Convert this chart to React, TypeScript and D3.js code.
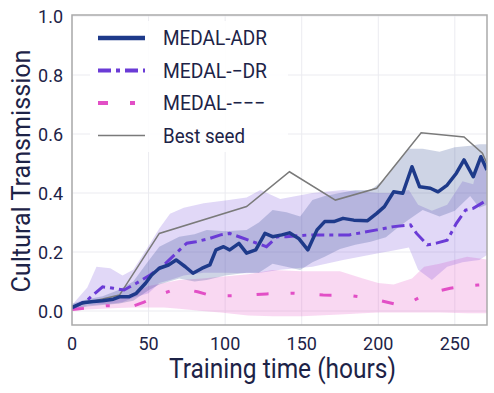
import React from 'react';
import * as d3 from 'd3';

// MEDAL-ADR (solid navy)
const adrHours = [0, 7, 14, 20, 27, 31, 37, 42, 48, 52, 57, 63, 68, 74, 79, 85, 90, 94, 99, 103, 109, 114, 120, 126, 131, 137, 142, 148, 154, 160, 165, 171, 177, 184, 193, 199, 204, 210, 216, 222, 227, 234, 239, 245, 251, 256, 262, 267, 271];
const adrMean = [0.012, 0.028, 0.032, 0.035, 0.04, 0.048, 0.048, 0.06, 0.094, 0.122, 0.145, 0.156, 0.173, 0.15, 0.128, 0.145, 0.156, 0.207, 0.218, 0.207, 0.229, 0.196, 0.207, 0.263, 0.252, 0.258, 0.265, 0.246, 0.207, 0.275, 0.303, 0.303, 0.314, 0.308, 0.306, 0.331, 0.354, 0.404, 0.399, 0.489, 0.421, 0.416, 0.404, 0.427, 0.467, 0.512, 0.455, 0.523, 0.478];
const adrBandHours = [0, 10, 20, 30, 40, 50, 57, 70, 80, 88, 100, 114, 122, 131, 140, 149, 157, 165, 175, 185, 195, 205, 212, 220, 229, 240, 250, 260, 266, 271];
const adrUpper = [0.025, 0.04, 0.05, 0.07, 0.1, 0.17, 0.218, 0.252, 0.26, 0.275, 0.27, 0.275, 0.3, 0.342, 0.335, 0.32, 0.376, 0.39, 0.4, 0.41, 0.41, 0.45, 0.5, 0.55, 0.55, 0.54, 0.555, 0.56, 0.565, 0.565];
const adrLower = [0.005, 0.015, 0.02, 0.025, 0.035, 0.07, 0.09, 0.11, 0.1, 0.105, 0.12, 0.13, 0.13, 0.16, 0.15, 0.139, 0.165, 0.184, 0.21, 0.225, 0.235, 0.25, 0.28, 0.31, 0.342, 0.32, 0.34, 0.39, 0.35, 0.36];

// MEDAL--DR (purple dash-dot)
const drHours = [0, 10, 15, 20, 27, 34, 42, 51, 60, 68, 75, 81, 90, 97, 103, 110, 118, 127, 134, 140, 155, 171, 181, 199, 210, 221, 225, 232, 238, 245, 251, 257, 262, 271];
const drMean = [0.01, 0.037, 0.06, 0.082, 0.077, 0.071, 0.094, 0.122, 0.156, 0.196, 0.23, 0.235, 0.246, 0.258, 0.263, 0.25, 0.235, 0.218, 0.252, 0.252, 0.258, 0.258, 0.258, 0.275, 0.286, 0.292, 0.263, 0.224, 0.23, 0.24, 0.297, 0.342, 0.348, 0.376];
const drBandHours = [0, 10, 16, 25, 33, 40, 50, 57, 64, 73, 86, 100, 114, 123, 136, 157, 177, 200, 210, 220, 226, 235, 245, 255, 262, 266, 271];
const drUpper = [0.02, 0.08, 0.15, 0.145, 0.12, 0.14, 0.22, 0.28, 0.33, 0.35, 0.365, 0.375, 0.385, 0.41, 0.38, 0.4, 0.41, 0.4, 0.4, 0.41, 0.36, 0.34, 0.36, 0.44, 0.43, 0.52, 0.47];
const drLower = [0.0, 0.02, 0.022, 0.025, 0.03, 0.045, 0.06, 0.095, 0.105, 0.12, 0.13, 0.13, 0.128, 0.13, 0.14, 0.15, 0.173, 0.196, 0.205, 0.215, 0.14, 0.105, 0.15, 0.165, 0.17, 0.173, 0.19];

// MEDAL--- (pink dash-dot)
const pinkHours = [0, 10, 23, 39, 47, 55, 65, 73, 82, 91, 110, 127, 145, 164, 181, 192, 200, 214, 223, 231, 247, 257, 265, 271];
const pinkMean = [0.005, 0.01, 0.018, 0.015, 0.03, 0.05, 0.07, 0.075, 0.065, 0.052, 0.052, 0.058, 0.06, 0.054, 0.053, 0.045, 0.037, 0.02, 0.035, 0.058, 0.077, 0.085, 0.088, 0.09];
const pinkBandHours = [0, 10, 20, 30, 40, 50, 60, 70, 85, 97, 115, 131, 150, 175, 190, 200, 210, 222, 230, 240, 258, 271];
const pinkUpper = [0.01, 0.02, 0.03, 0.04, 0.06, 0.085, 0.095, 0.105, 0.11, 0.116, 0.125, 0.139, 0.135, 0.135, 0.11, 0.095, 0.09, 0.11, 0.15, 0.16, 0.184, 0.175];
const pinkLower = [0.0, 0.005, 0.008, 0.01, 0.012, 0.012, 0.012, 0.008, 0.0, -0.005, -0.015, -0.018, -0.018, -0.012, -0.008, -0.005, -0.005, -0.005, -0.005, -0.005, -0.008, -0.008];

// Best seed (thin grey)
const bestHours = [0, 15, 31, 57, 114, 142, 172, 199, 228, 256, 268, 271];
const bestValues = [0.015, 0.035, 0.054, 0.263, 0.354, 0.472, 0.376, 0.416, 0.604, 0.59, 0.535, 0.5];

const xTicks = [0, 50, 100, 150, 200, 250];
const yTicks = [0, 0.2, 0.4, 0.6, 0.8, 1.0];

const W = 494;
const H = 393;
const plotLeft = 72;
const plotRight = 487;
const plotTop = 15;
const plotBottom = 325;
const ink = '#1d2347';
const font = 'Roboto, "Noto Sans", sans-serif';

const x = d3.scaleLinear().domain([0, 271]).range([plotLeft, plotRight]);
const y = d3.scaleLinear().domain([0, 1]).range([311, 16]);

const linePath = (hs: number[], vs: number[]) =>
  d3.line<number>().x((_, i) => x(hs[i])).y(v => y(v))(vs) || '';

const bandPath = (hs: number[], lo: number[], hi: number[]) =>
  d3.area<number>().x(h => x(h)).y0((_, i) => y(lo[i])).y1((_, i) => y(hi[i]))(hs) || '';

const series = [
  { name: 'MEDAL-ADR', color: '#1e3a8a', width: 3.5, dash: '', textLen: 104 },
  { name: 'MEDAL-\u2212DR', color: '#6a3bd6', width: 3, dash: '13,5,4,5', textLen: 104 },
  { name: 'MEDAL-\u2212\u2212\u2212', color: '#e24fc6', width: 3, dash: '10,22,5,25', textLen: 102 },
  { name: 'Best seed', color: '#7a7a7a', width: 1.5, dash: '', textLen: 82 },
];

export default function App() {
  return (
    <svg width={W} height={H} style={{ position: 'absolute', left: 0, top: 0, background: '#fff' }} fontFamily={font}>
      <defs>
        <clipPath id="plot">
          <rect x={plotLeft} y={plotTop} width={plotRight - plotLeft} height={plotBottom - plotTop} />
        </clipPath>
      </defs>
      {xTicks.map(t => (
        <line key={'gx' + t} x1={x(t)} x2={x(t)} y1={plotTop} y2={plotBottom} stroke="#ebebf0" strokeWidth={1} />
      ))}
      {yTicks.map(t => (
        <line key={'gy' + t} x1={plotLeft} x2={plotRight} y1={y(t)} y2={y(t)} stroke="#ebebf0" strokeWidth={1} />
      ))}
      <g clipPath="url(#plot)">
        <path d={bandPath(pinkBandHours, pinkLower, pinkUpper)} fill="#e24fc6" fillOpacity={0.22} />
        <path d={bandPath(drBandHours, drLower, drUpper)} fill="#6a3bd6" fillOpacity={0.2} />
        <path d={bandPath(adrBandHours, adrLower, adrUpper)} fill="#1e3a8a" fillOpacity={0.22} />
        <path d={linePath(bestHours, bestValues)} fill="none" stroke="#7a7a7a" strokeWidth={1.5} />
        <path d={linePath(pinkHours, pinkMean)} fill="none" stroke="#e24fc6" strokeWidth={3} strokeDasharray="12,22,4,25" />
        <path d={linePath(drHours, drMean)} fill="none" stroke="#6a3bd6" strokeWidth={3} strokeDasharray="13,5,4,5" />
        <path d={linePath(adrHours, adrMean)} fill="none" stroke="#1e3a8a" strokeWidth={3.5} strokeLinejoin="round" />
      </g>
      <rect x={plotLeft} y={plotTop} width={plotRight - plotLeft} height={plotBottom - plotTop} fill="none" stroke="#aaaaaa" strokeWidth={1.5} />
      {xTicks.map(t => (
        <text key={'tx' + t} x={x(t)} y={343} textAnchor="middle" dominantBaseline="central" fontSize={18} fill={ink}>{t}</text>
      ))}
      {yTicks.map(t => (
        <text key={'ty' + t} x={63} y={y(t)} textAnchor="end" dominantBaseline="central" fontSize={18} fill={ink}>{t.toFixed(1)}</text>
      ))}
      <text x={(plotLeft + plotRight) / 2 + 3} y={378} textAnchor="middle" fontSize={27} fill={ink} textLength={227} lengthAdjust="spacingAndGlyphs">Training time (hours)</text>
      <text transform="translate(30,171) rotate(-90)" textAnchor="middle" fontSize={25} fill={ink} textLength={243} lengthAdjust="spacingAndGlyphs">Cultural Transmission</text>
      <rect x={90} y={21} width={198} height={131} rx={4} fill="#fff" fillOpacity={0.9} />
      {series.map((s, i) => {
        const ly = 38 + i * 32.5;
        return (
          <g key={s.name}>
            <line x1={98} x2={145} y1={ly} y2={ly} stroke={s.color} strokeWidth={s.width === 3.5 ? 4.5 : s.width === 3 ? 4 : 1.5} strokeDasharray={s.dash} />
            <text x={163} y={ly} dominantBaseline="central" fontSize={21} fill={ink} textLength={s.textLen} lengthAdjust="spacingAndGlyphs">{s.name}</text>
          </g>
        );
      })}
    </svg>
  );
}
